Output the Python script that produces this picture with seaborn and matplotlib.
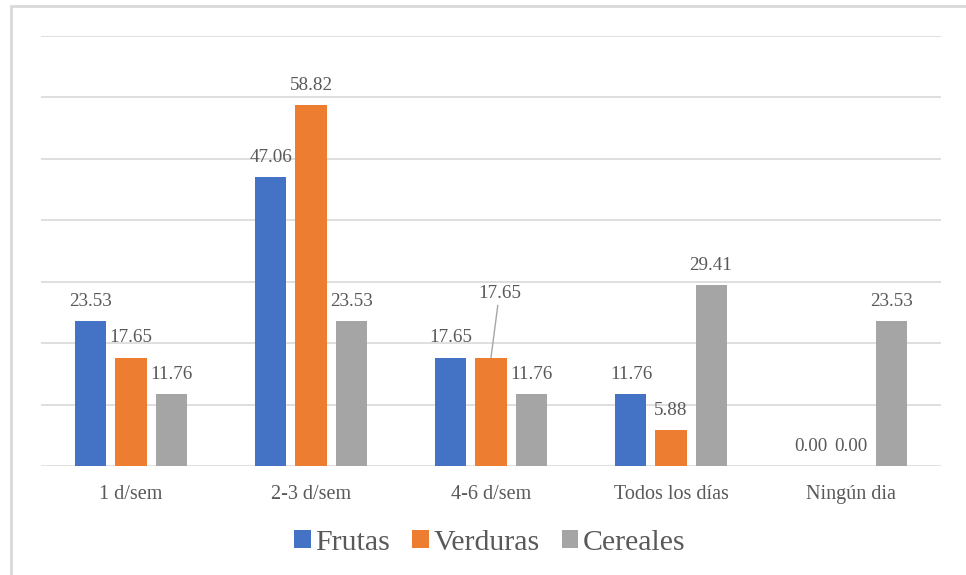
import pandas as pd
import matplotlib.pyplot as plt
import seaborn as sns
from matplotlib.patches import Rectangle

# Data
categories = ["1 d/sem", "2-3 d/sem", "4-6 d/sem", "Todos los días", "Ningún dia"]
frutas = [23.53, 47.06, 17.65, 11.76, 0.00]
verduras = [17.65, 58.82, 17.65, 5.88, 0.00]
cereales = [11.76, 23.53, 11.76, 29.41, 23.53]
series_names = ["Frutas", "Verduras", "Cereales"]
colors = ["#4472C4", "#ED7D31", "#A5A5A5"]

df = pd.DataFrame({
    "categoria": categories * 3,
    "valor": frutas + verduras + cereales,
    "serie": [s for s in series_names for _ in categories],
})

sns.set_style("white")
plt.rcParams["font.family"] = ["Liberation Serif", "DejaVu Serif"]
text_color = "#595959"
grid_color = "#d9d9d9"

fig = plt.figure(figsize=(9.66, 5.75), dpi=100)
ax = fig.add_axes([41 / 966, 1 - 466 / 575, 900 / 966, 430 / 575])

sns.barplot(data=df, x="categoria", y="valor", hue="serie", order=categories,
            hue_order=series_names, palette=colors, width=0.667, gap=0.225,
            saturation=1, linewidth=0, ax=ax, legend=True)

ax.set_ylim(0, 70)
ax.set_xlim(-0.5, len(categories) - 0.5)
ax.set_yticks(range(10, 80, 10))
ax.set_yticklabels([])
ax.grid(axis="y", color=grid_color, linewidth=1.2)
ax.set_axisbelow(True)
ax.axhline(0, color=grid_color, linewidth=1.8, zorder=0.5)
for sp in ax.spines.values():
    sp.set_visible(False)
ax.tick_params(axis="both", length=0)
ax.tick_params(axis="x", pad=14, labelsize=14.5, labelcolor=text_color)
ax.set_xlabel("")
ax.set_ylabel("")

# data labels
for ci, cont in enumerate(ax.containers):
    labels = []
    for bi, bar in enumerate(cont):
        if ci == 1 and bi == 2:
            labels.append("")  # placed separately with a leader line
        else:
            labels.append(f"{bar.get_height():.2f}")
    ax.bar_label(cont, labels=labels, padding=8, fontsize=13.8, color=text_color)

bar = ax.containers[1][2]
bx = bar.get_x() + bar.get_width() / 2
ax.annotate(f"{bar.get_height():.2f}", xy=(bx, bar.get_height()),
            xytext=(6, 40), textcoords="offset points", ha="center", va="bottom",
            fontsize=13.8, color=text_color,
            arrowprops=dict(arrowstyle="-", color="#a6a6a6", lw=1,
                            shrinkA=0, shrinkB=0))

# legend
handles, labs = ax.get_legend_handles_labels()
ax.legend(handles, labs, loc="center", bbox_to_anchor=(0.507, 1 - 543 / 575),
          bbox_transform=fig.transFigure, ncol=3, frameon=False,
          fontsize=21.5, labelcolor=text_color, handlelength=0.55, handleheight=0.55,
          handletextpad=0.15, columnspacing=0.75)

# outer border (cropped chart area)
fig.patches.append(Rectangle((11 / 966, -0.1), 1.5, 1 - 6 / 575 + 0.1,
                             transform=fig.transFigure, fill=False,
                             edgecolor=grid_color, linewidth=2, clip_on=False))

fig.savefig("out.png", dpi=100)
